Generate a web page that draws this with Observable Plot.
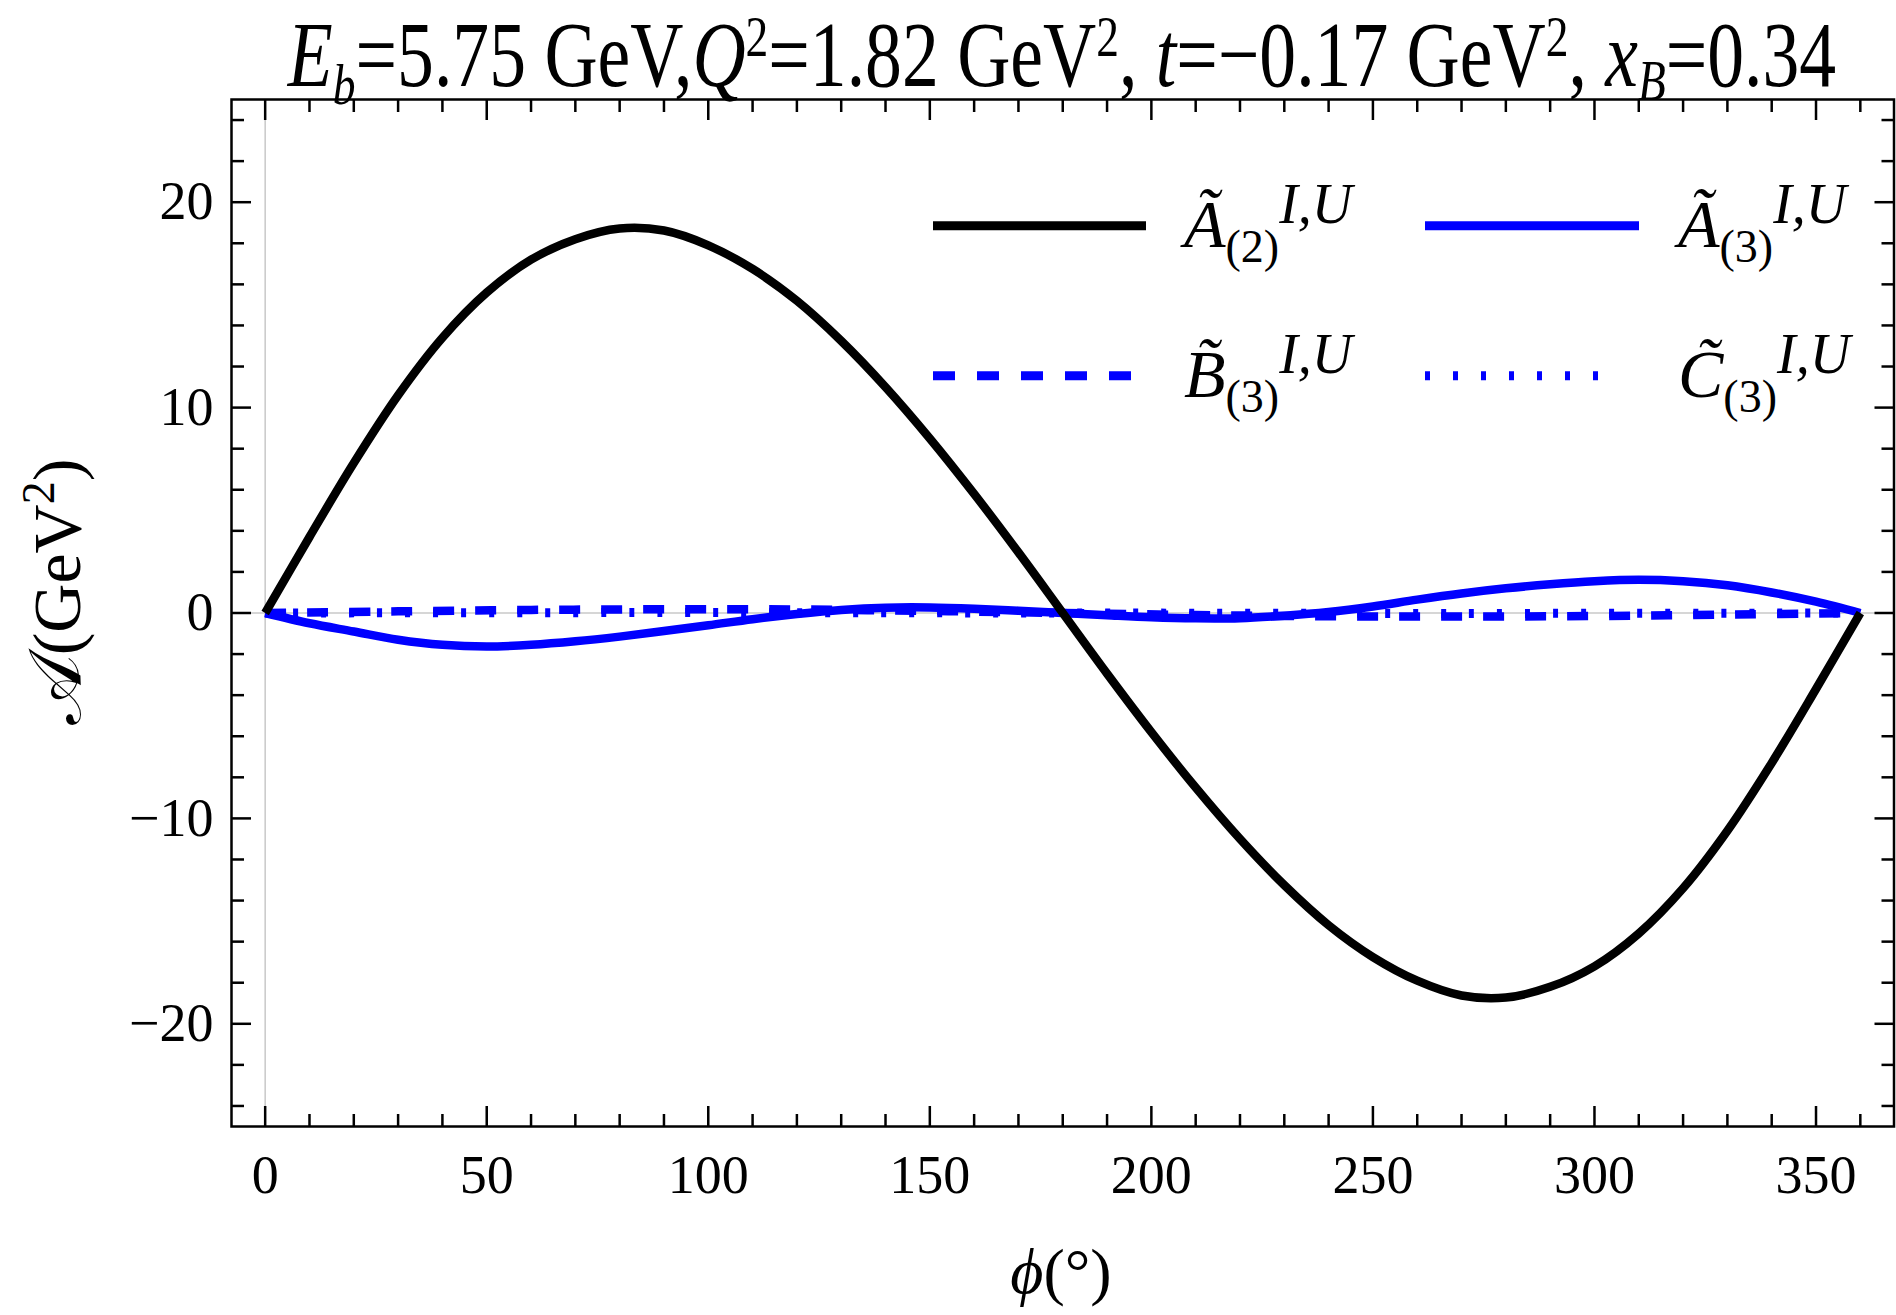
<!DOCTYPE html>
<html>
<head>
<meta charset="utf-8">
<script src="https://cdn.jsdelivr.net/npm/d3@7"></script>
<script src="https://cdn.jsdelivr.net/npm/@observablehq/plot@0.6"></script>
<style>
html, body { margin: 0; padding: 0; background: #fff; }
#chart { width: 1896px; height: 1315px; }
svg text { white-space: pre; }
</style>
</head>
<body>
<div id="chart"></div>
<script>
// ---------------- data ----------------
const phiA2 = [0, 10, 20, 30, 40, 50, 60, 70, 80, 90, 100, 110, 120, 130, 140, 150, 160, 170, 180,
               190, 200, 210, 220, 230, 240, 250, 260, 270, 280, 290, 300, 310, 320, 330, 340, 350, 360];
const valA2 = [0, 3.7, 7.3, 10.6, 13.4, 15.6, 17.2, 18.2, 18.72, 18.62, 17.9, 16.75, 15.2, 13.25, 11.0, 8.5, 5.8, 2.95, 0,
               -2.95, -5.8, -8.5, -11.0, -13.25, -15.2, -16.75, -17.9, -18.62, -18.72, -18.2, -17.2, -15.6, -13.4, -10.6, -7.3, -3.7, 0];

const phiA3 = [0, 10, 20, 30, 40, 50, 60, 70, 80, 90, 100, 110, 120, 130, 140, 150, 160, 170, 180,
               190, 200, 210, 220, 230, 240, 250, 260, 270, 280, 290, 300, 310, 320, 330, 340, 350, 360];
const valA3 = [0, -0.5, -0.9, -1.3, -1.55, -1.63, -1.55, -1.38, -1.15, -0.88, -0.6, -0.3, -0.05, 0.15, 0.26, 0.27, 0.21, 0.11, 0,
               -0.11, -0.21, -0.26, -0.25, -0.13, 0.05, 0.32, 0.65, 0.95, 1.2, 1.4, 1.55, 1.62, 1.55, 1.35, 1.0, 0.55, 0];

const phiB3 = [0, 30, 60, 90, 120, 150, 180, 210, 240, 270, 300, 330, 360];
const valB3 = [0, 0.08, 0.15, 0.18, 0.17, 0.10, 0, -0.10, -0.16, -0.17, -0.15, -0.08, 0];

const phiC3 = [0, 90, 180, 270, 360];
const valC3 = [0, 0.02, 0, -0.02, 0];

// axis ticks
const xMajorTicks = [0, 50, 100, 150, 200, 250, 300, 350];
const xMinorTicks = [10, 20, 30, 40, 60, 70, 80, 90, 110, 120, 130, 140, 160, 170, 180, 190, 210, 220, 230, 240,
                     260, 270, 280, 290, 310, 320, 330, 340, 360];
const yMajorTicks = [-20, -10, 0, 10, 20];
const yMinorTicks = [-24, -22, -18, -16, -14, -12, -8, -6, -4, -2, 2, 4, 6, 8, 12, 14, 16, 18, 22, 24];

// ---------------- build ----------------
const rows = (phi, v) => phi.map((p, i) => ({phi: p, v: v[i]}));
const A2 = rows(phiA2, valA2);
const A3 = rows(phiA3, valA3);
const B3 = rows(phiB3, valB3);
const C3 = rows(phiC3, valC3);

const serif = "'Liberation Serif', 'Times New Roman', serif";
const BLUE = "#0000ff";
const TW = 2.5;

const svg = Plot.plot({
  width: 1896,
  height: 1315,
  marginLeft: 231,
  marginRight: 2.5,
  marginTop: 99,
  marginBottom: 189,
  x: {domain: [-7.6, 367.6]},
  y: {domain: [-25, 25]},
  style: {fontFamily: serif, background: "#fff", color: "#000"},
  marks: [
    Plot.ruleX([0], {stroke: "#c8c8c8", strokeWidth: 1.5}),
    Plot.ruleY([0], {stroke: "#c8c8c8", strokeWidth: 1.5}),
    // inward ticks on all four sides
    Plot.axisX(xMajorTicks, {anchor: "bottom", tickSize: 20, dy: -20, fill: "none", strokeWidth: TW, label: null}),
    Plot.axisX(xMinorTicks, {anchor: "bottom", tickSize: 12, dy: -12, fill: "none", strokeWidth: TW, label: null}),
    Plot.axisX(xMajorTicks, {anchor: "top", tickSize: 20, dy: 20, fill: "none", strokeWidth: TW, label: null}),
    Plot.axisX(xMinorTicks, {anchor: "top", tickSize: 12, dy: 12, fill: "none", strokeWidth: TW, label: null}),
    Plot.axisY(yMajorTicks, {anchor: "left", tickSize: 20, dx: 20, fill: "none", strokeWidth: TW, label: null}),
    Plot.axisY(yMinorTicks, {anchor: "left", tickSize: 13, dx: 13, fill: "none", strokeWidth: TW, label: null}),
    Plot.axisY(yMajorTicks, {anchor: "right", tickSize: 20, dx: -20, fill: "none", strokeWidth: TW, label: null}),
    Plot.axisY(yMinorTicks, {anchor: "right", tickSize: 13, dx: -13, fill: "none", strokeWidth: TW, label: null}),
    // tick labels
    Plot.axisX(xMajorTicks, {anchor: "bottom", tickSize: 0, tickPadding: 28, fontSize: 54, fontFamily: serif, label: null}),
    Plot.axisY(yMajorTicks, {anchor: "left", tickSize: 0, tickPadding: 18, fontSize: 54, fontFamily: serif, label: null}),
    // curves
    Plot.line(A3, {x: "phi", y: "v", stroke: BLUE, strokeWidth: 8.5, curve: "catmull-rom", strokeLinecap: "butt"}),
    Plot.line(B3, {x: "phi", y: "v", stroke: BLUE, strokeWidth: 8.5, curve: "catmull-rom", strokeLinecap: "butt", strokeDasharray: "21,21"}),
    Plot.line(C3, {x: "phi", y: "v", stroke: BLUE, strokeWidth: 9, curve: "catmull-rom", strokeLinecap: "butt", strokeDasharray: "5,23"}),
    Plot.line(A2, {x: "phi", y: "v", stroke: "#000", strokeWidth: 8.5, curve: "catmull-rom", strokeLinecap: "butt"}),
    Plot.frame({stroke: "#000", strokeWidth: TW})
  ]
});
document.getElementById("chart").append(svg);

const root = d3.select(svg);

function rich(textSel, parts, size) {
  let off = 0;
  for (const p of parts) {
    const target = p.sub ? p.shift : p.sup ? -p.shift : 0;
    const ts = textSel.append("tspan")
      .text(p.t)
      .attr("dy", target - off)
      .attr("font-size", p.size || size)
      .attr("font-style", p.i ? "italic" : "normal");
    if (p.font) ts.attr("font-family", p.font);
    off = target;
  }
  return textSel;
}

// ---------------- title (condensed, as in the reference) ----------------
const TS = 94, TSS = 58;
const title = root.append("text")
  .attr("font-family", serif)
  .attr("text-anchor", "middle")
  .attr("fill", "#000");
rich(title, [
  {t: "E", i: true}, {t: "b", i: true, sub: true, shift: 18, size: TSS},
  {t: "=5.75 GeV,"},
  {t: "Q", i: true}, {t: "2", sup: true, shift: 30, size: TSS},
  {t: "=1.82 GeV"}, {t: "2", sup: true, shift: 30, size: TSS},
  {t: ", "}, {t: "t", i: true}, {t: "=\u22120.17 GeV"}, {t: "2", sup: true, shift: 30, size: TSS},
  {t: ", "}, {t: "x", i: true}, {t: "B", i: true, sub: true, shift: 14, size: TSS},
  {t: "=0.34"}
], TS);
const tw = title.node().getBBox().width;
title.attr("transform", `translate(1062,86) scale(${1550 / tw},1)`);

// ---------------- axis labels ----------------
const xl = root.append("text")
  .attr("font-family", serif)
  .attr("text-anchor", "middle")
  .attr("transform", "translate(1061,1293)");
rich(xl, [{t: "\u03D5", i: true}, {t: "(\u00B0)"}], 64);

const yl = root.append("text")
  .attr("font-family", serif)
  .attr("text-anchor", "middle")
  .attr("transform", "translate(80,592) rotate(-90)");
rich(yl, [
  {t: "\uD835\uDC9C", font: "'DejaVu Serif', 'DejaVu Sans', 'Noto Sans', serif", size: 74},
  {t: "(GeV"}, {t: "2", sup: true, shift: 26, size: 46}, {t: ")"}
], 68);

// ---------------- legend ----------------
const legendItems = [
  {col: 0, row: 0, stroke: "#000", dash: null, letter: "\u00C3", sub: "(2)"},
  {col: 1, row: 0, stroke: BLUE, dash: null, letter: "\u00C3", sub: "(3)"},
  {col: 0, row: 1, stroke: BLUE, dash: "22,22", letter: "B\u0303", sub: "(3)"},
  {col: 1, row: 1, stroke: BLUE, dash: "5,23", letter: "C\u0303", sub: "(3)"}
];
const colLine = [[933, 1146], [1425, 1639]];
const colText = [1184, 1678];
const rowY = [225.7, 375.7];
const lg = root.append("g");
for (const it of legendItems) {
  const [x1, x2] = colLine[it.col];
  lg.append("line")
    .attr("x1", x1).attr("x2", it.dash === "5,23" ? x2 - 19 : x2)
    .attr("y1", rowY[it.row]).attr("y2", rowY[it.row])
    .attr("stroke", it.stroke).attr("stroke-width", 9)
    .attr("stroke-linecap", "butt")
    .attr("stroke-dasharray", it.dash);
  const t = lg.append("text")
    .attr("font-family", serif)
    .attr("text-anchor", "start")
    .attr("x", colText[it.col])
    .attr("y", rowY[it.row] + 21);
  rich(t, [
    {t: it.letter, i: true},
    {t: it.sub, sub: true, shift: 15, size: 46},
    {t: "I,U", i: true, sup: true, shift: 24, size: 56}
  ], 68);
}
</script>
</body>
</html>
